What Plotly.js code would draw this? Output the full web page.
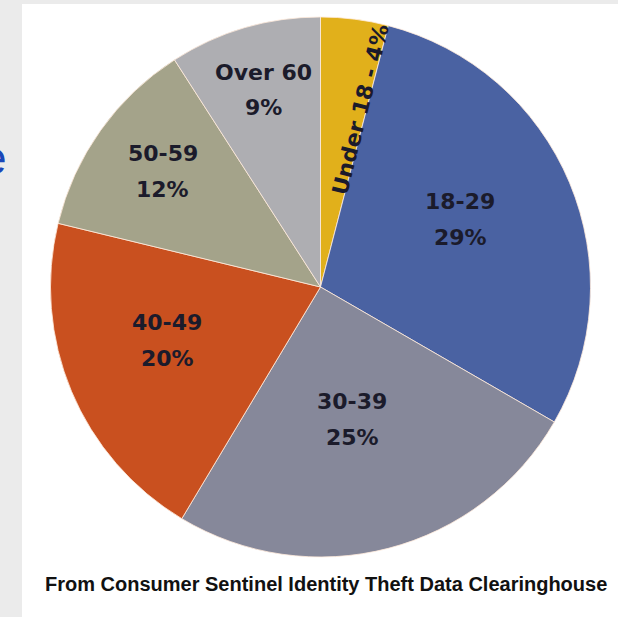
<!DOCTYPE html>
<html>
<head>
<meta charset="utf-8">
<script src="https://cdn.plot.ly/plotly-3.0.1.min.js"></script>
<style>html,body{margin:0;padding:0;background:#fff;}#chart{width:618px;height:617px;}</style>
</head>
<body>
<div id="chart"></div>
<script>
// Data (clockwise from 12 o'clock)
var categories = ["Under 18", "18-29", "30-39", "40-49", "50-59", "Over 60"];
var percents = [4, 29, 25, 20, 12, 9];
var colors = ["#e1b01b", "#4a62a2", "#86889a", "#c9501f", "#a4a38a", "#aeaeb2"];
var caption = "From Consumer Sentinel Identity Theft Data Clearinghouse";

var W = 618, H = 617;
function px(x){ return x / W; }
function py(y){ return 1 - y / H; }

var labelFont = {family: "'DejaVu Sans', sans-serif", size: 22, color: "#1b1b2b", weight: 700};

// label block centres (pixels) for each slice
var labelPos = {
  "18-29": [460, 219],
  "30-39": [352, 419],
  "40-49": [167, 340],
  "50-59": [163, 172],
  "Over 60": [263, 90]
};

var annotations = [];
categories.forEach(function(c, i){
  if (c === "Under 18") {
    annotations.push({
      text: c + " - " + percents[i] + "%", x: px(360), y: py(110), xref: "paper", yref: "paper",
      showarrow: false, textangle: -76, font: labelFont, xanchor: "center", yanchor: "middle"
    });
  } else {
    var p = labelPos[c];
    annotations.push({
      text: c, x: px(p[0]), y: py(p[1] - 18), xref: "paper", yref: "paper",
      showarrow: false, font: labelFont, xanchor: "center", yanchor: "middle"
    });
    annotations.push({
      text: percents[i] + "%", x: px(p[0]), y: py(p[1] + 18), xref: "paper", yref: "paper",
      showarrow: false, font: labelFont, xanchor: "center", yanchor: "middle"
    });
  }
});
annotations.push({
  text: caption, x: px(326), y: py(584), xref: "paper", yref: "paper", showarrow: false,
  font: {family: "'Liberation Sans', Arial, sans-serif", size: 20, color: "#111", weight: 700},
  xanchor: "center", yanchor: "middle"
});
annotations.push({
  text: "e", x: px(9), y: py(158), xref: "paper", yref: "paper", showarrow: false,
  font: {family: "'Liberation Sans', Arial, sans-serif", size: 46, color: "#1a47b8"},
  xanchor: "right", yanchor: "middle"
});

var trace = {
  type: "pie",
  labels: categories,
  values: percents,
  sort: false,
  direction: "clockwise",
  rotation: 0,
  textinfo: "none",
  hoverinfo: "label+percent",
  marker: {colors: colors, line: {color: "rgba(255,235,220,0.8)", width: 1}},
  domain: {x: [50/W, 591/W], y: [60/H, 600/H]},
  showlegend: false
};

var layout = {
  width: W, height: H,
  margin: {l: 0, r: 0, t: 0, b: 0},
  paper_bgcolor: "#ffffff",
  showlegend: false,
  shapes: [
    {type: "rect", xref: "paper", yref: "paper", x0: 0, x1: px(22), y0: 0, y1: 1, fillcolor: "#ebebeb", line: {width: 0}, layer: "above"},
    {type: "rect", xref: "paper", yref: "paper", x0: 0, x1: 1, y0: py(4), y1: 1, fillcolor: "#ebebeb", line: {width: 0}, layer: "above"}
  ],
  annotations: annotations
};

Plotly.newPlot("chart", [trace], layout, {displayModeBar: false, staticPlot: true});
</script>
</body>
</html>
